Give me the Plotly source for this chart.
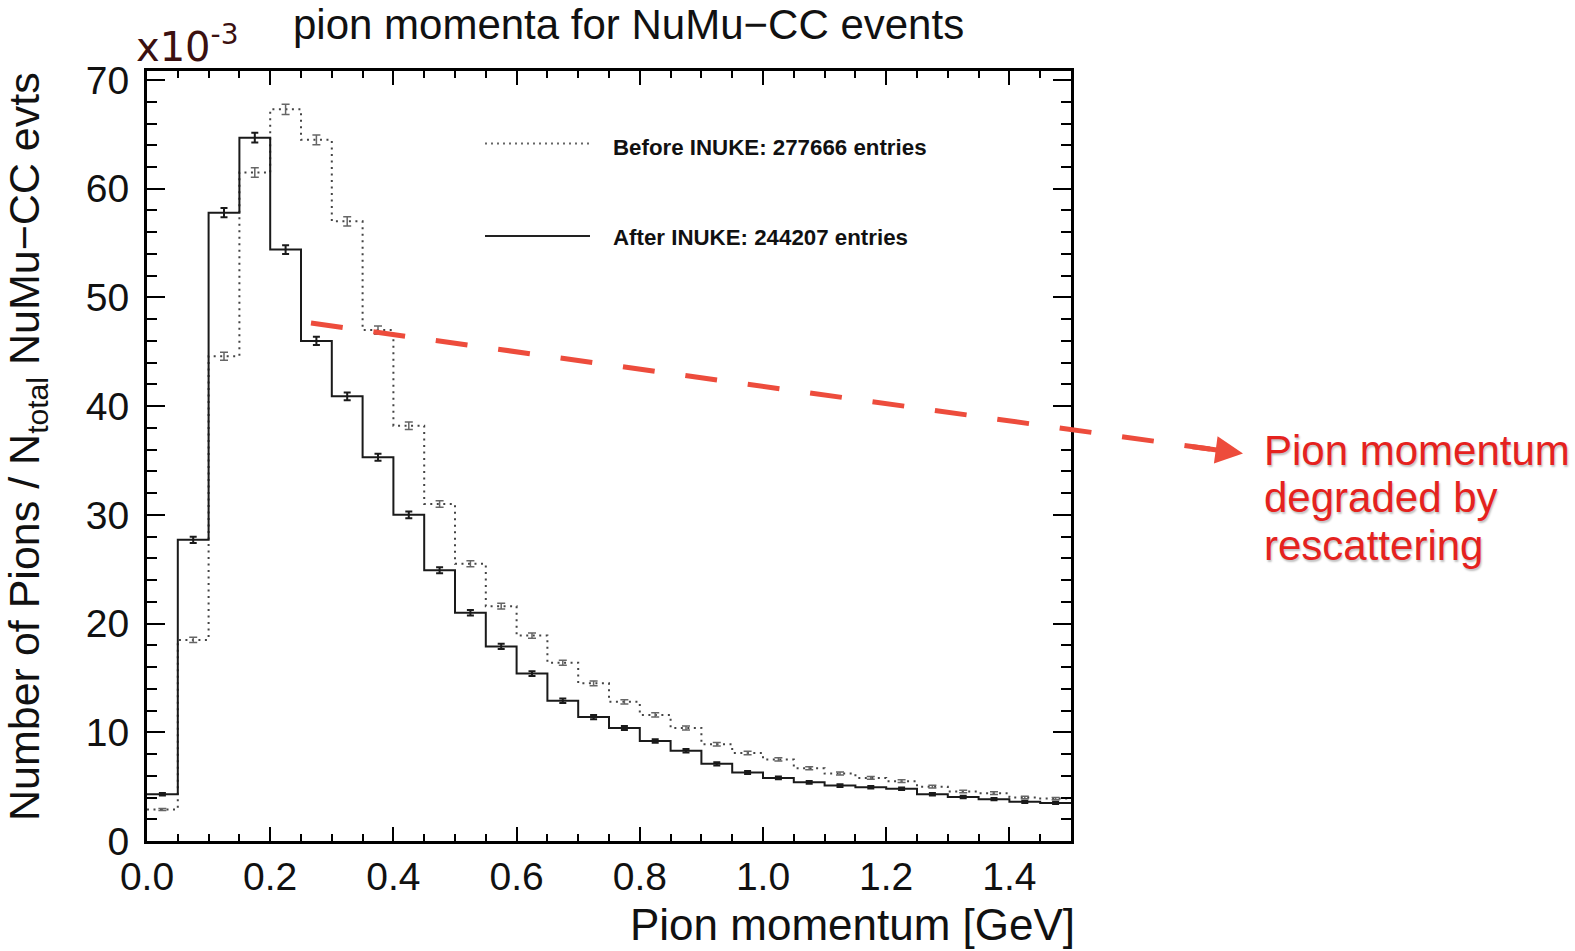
import numpy as np
import plotly.graph_objects as go

# ---- data (units of 1e-3) ----
bin_edges = np.round(np.linspace(0.0, 1.5, 31), 3)
after_inuke = [4.3, 27.7, 57.8, 64.7, 54.4, 46.0, 40.9, 35.3, 30.0, 24.9,
               21.0, 17.9, 15.4, 12.9, 11.4, 10.4, 9.2, 8.3, 7.1, 6.3,
               5.8, 5.4, 5.1, 4.95, 4.8, 4.3, 4.05, 3.85, 3.6, 3.5]
after_err = [0.12, 0.29, 0.43, 0.45, 0.41, 0.38, 0.36, 0.33, 0.31, 0.28,
             0.26, 0.24, 0.22, 0.20, 0.19, 0.18, 0.17, 0.16, 0.15, 0.14,
             0.13, 0.13, 0.13, 0.12, 0.12, 0.12, 0.11, 0.11, 0.11, 0.10]
before_inuke = [2.9, 18.5, 44.6, 61.5, 67.3, 64.5, 57.0, 47.0, 38.2, 31.0,
                25.5, 21.6, 18.9, 16.4, 14.5, 12.8, 11.6, 10.4, 8.9, 8.1,
                7.5, 6.7, 6.2, 5.8, 5.5, 5.0, 4.55, 4.4, 4.0, 3.9]
before_err = [0.10, 0.24, 0.37, 0.44, 0.46, 0.45, 0.42, 0.38, 0.35, 0.31,
              0.28, 0.26, 0.24, 0.23, 0.21, 0.20, 0.19, 0.18, 0.17, 0.16,
              0.15, 0.14, 0.14, 0.13, 0.13, 0.13, 0.12, 0.12, 0.11, 0.11]
legend_labels = ["Before INUKE: 277666 entries", "After INUKE: 244207 entries"]
x_tick_vals = [0.0, 0.2, 0.4, 0.6, 0.8, 1.0, 1.2, 1.4]
y_tick_vals = [0, 10, 20, 30, 40, 50, 60, 70]

centers = (bin_edges[:-1] + bin_edges[1:]) / 2

W, H = 1575, 951
L, R, T, B = 147, 504, 71, 110
PW, PH = W - L - R, H - T - B


def px(xp):
    return (xp - L) / PW


def py(yp):
    return (H - B - yp) / PH


FONT = "Liberation Sans, Arial, Helvetica, sans-serif"
RED_LINE = "#ED4C3C"
RED_TEXT = "#E5221E"

fig = go.Figure()

# Before INUKE (dotted)
fig.add_trace(go.Scatter(
    x=bin_edges, y=before_inuke + [before_inuke[-1]], mode="lines",
    line=dict(shape="hv", color="#444444", width=2, dash="2px,4.5px"),
    showlegend=False, hoverinfo="skip"))
fig.add_trace(go.Scatter(
    x=centers, y=before_inuke, mode="markers",
    marker=dict(size=1, color="rgba(0,0,0,0)"),
    error_y=dict(type="data", array=before_err, visible=True,
                 width=4, thickness=1.5, color="#666666"),
    showlegend=False, hoverinfo="skip"))

# After INUKE (solid)
fig.add_trace(go.Scatter(
    x=bin_edges, y=after_inuke + [after_inuke[-1]], mode="lines",
    line=dict(shape="hv", color="#1a1a1a", width=2),
    showlegend=False, hoverinfo="skip"))
fig.add_trace(go.Scatter(
    x=centers, y=after_inuke, mode="markers",
    marker=dict(size=1, color="rgba(0,0,0,0)"),
    error_y=dict(type="data", array=after_err, visible=True,
                 width=3.5, thickness=2, color="#1a1a1a"),
    showlegend=False, hoverinfo="skip"))

axis_common = dict(
    showgrid=False, zeroline=False, showline=True, linecolor="black",
    linewidth=3, mirror="allticks", ticks="inside", tickcolor="black",
    tickwidth=2, tickfont=dict(family=FONT, size=39, color="#111111"),
)

fig.update_xaxes(range=[0, 1.5], tickvals=x_tick_vals, tickformat=".1f",
                 ticklen=14, ticklabelstandoff=-1,
                 minor=dict(dtick=0.05, ticks="inside", ticklen=7,
                            tickwidth=2, tickcolor="black"),
                 **axis_common)
fig.update_yaxes(range=[0, 70.83], tickvals=y_tick_vals,
                 ticklen=18, ticklabelstandoff=7,
                 minor=dict(dtick=2, ticks="inside", ticklen=10,
                            tickwidth=2, tickcolor="black"),
                 **axis_common)

shapes = []
annotations = []

# legend samples
shapes.append(dict(type="line", xref="paper", yref="paper",
                   x0=px(485), x1=px(590), y0=py(143.5), y1=py(143.5),
                   line=dict(color="#666666", width=2, dash="2px,4px")))
shapes.append(dict(type="line", xref="paper", yref="paper",
                   x0=px(485), x1=px(590), y0=py(236), y1=py(236),
                   line=dict(color="#222222", width=2)))
annotations.append(dict(xref="paper", yref="paper", x=px(611), y=py(147),
                        xanchor="left", yanchor="middle", showarrow=False,
                        text="<b>" + legend_labels[0] + "</b>",
                        font=dict(family=FONT, size=22.3, color="#111111")))
annotations.append(dict(xref="paper", yref="paper", x=px(611), y=py(237.5),
                        xanchor="left", yanchor="middle", showarrow=False,
                        text="<b>" + legend_labels[1] + "</b>",
                        font=dict(family=FONT, size=22.3, color="#111111")))

# titles
annotations.append(dict(xref="paper", yref="paper", x=px(628), y=py(24),
                        xanchor="center", yanchor="middle", showarrow=False,
                        text="pion momenta for NuMu\u2212CC events",
                        font=dict(family=FONT, size=42, color="#111111")))
annotations.append(dict(xref="paper", yref="paper", x=px(1077), y=py(924),
                        xanchor="right", yanchor="middle", showarrow=False,
                        text="Pion momentum [GeV]",
                        font=dict(family=FONT, size=44, color="#111111")))
annotations.append(dict(xref="paper", yref="paper", x=px(27), y=py(447),
                        xanchor="center", yanchor="middle", showarrow=False,
                        textangle=-90,
                        text="Number of Pions / N<sub>total</sub> NuMu\u2212CC evts",
                        font=dict(family=FONT, size=43, color="#111111")))
annotations.append(dict(xref="paper", yref="paper", x=px(134), y=py(44),
                        xanchor="left", yanchor="middle", showarrow=False,
                        text="x10<sup>-3</sup>",
                        font=dict(family="DejaVu Sans, Verdana, sans-serif",
                                  size=40, color="#3b1010")))

# red callout
shapes.append(dict(type="line", xref="paper", yref="paper",
                   x0=px(311), y0=py(323), x1=px(1210), y1=py(449),
                   line=dict(color=RED_LINE, width=5, dash="32px,31px")))
annotations.append(dict(xref="paper", yref="paper", x=px(1243), y=py(453.5),
                        axref="pixel", ayref="pixel", ax=-52, ay=-7,
                        showarrow=True, arrowhead=2, arrowsize=1.1,
                        arrowwidth=5, arrowcolor=RED_LINE, text=""))
callout_lines = ["Pion momentum", "degraded by", "rescattering"]
for i, line_text in enumerate(callout_lines):
    annotations.append(dict(xref="paper", yref="paper", x=px(1262),
                            y=py(450 + 47.5 * i),
                            xanchor="left", yanchor="middle", showarrow=False,
                            text=line_text,
                            font=dict(family=FONT, size=42, color=RED_TEXT,
                                      shadow="1px 2px 2px rgba(0,0,0,0.25)")))

fig.update_layout(
    width=W, height=H, autosize=False,
    margin=dict(l=L, r=R, t=T, b=B, pad=0),
    paper_bgcolor="white", plot_bgcolor="white",
    shapes=shapes, annotations=annotations, showlegend=False,
)

fig.write_html("out.html")
